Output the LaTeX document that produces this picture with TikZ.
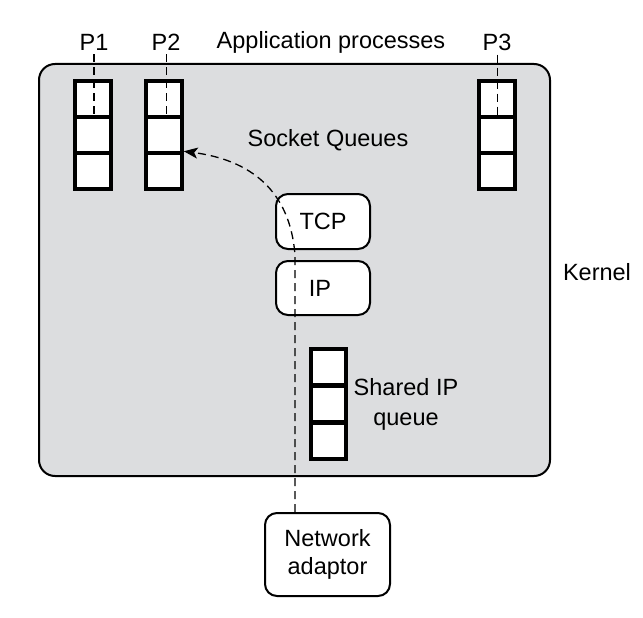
\documentclass[tikz,border=0pt]{standalone}
\usepackage{fontspec}
\setmainfont{Liberation Sans}
\usetikzlibrary{arrows.meta}
\definecolor{kgray}{RGB}{220,221,223}
\begin{document}
\begin{tikzpicture}[x=1pt,y=-1pt,
  lbl/.style={font=\fontsize{23.5}{29}\selectfont, inner sep=0pt},
  cell/.style={draw=black, fill=white, line width=3.5pt, minimum width=36pt, minimum height=36pt, inner sep=0pt},
  rbox/.style={draw=black, fill=white, line width=2pt, rounded corners=12pt, inner sep=0pt, font=\fontsize{23.5}{28}\selectfont, align=center},
  dsh/.style={dash pattern=on 8pt off 5pt, line width=1.3pt}]
\useasboundingbox (0,0) rectangle (643,618);
% kernel
\draw[fill=kgray, line width=2pt, rounded corners=16pt] (39,64) rectangle (550,476);
\node[lbl] (kernel) at (597,272) {Kernel};
% labels
\node[lbl] (p1l) at (94,42) {P1};
\node[lbl] (p2l) at (166,42) {P2};
\node[lbl] (p3l) at (497,42) {P3};
\node[lbl] (app) at (331,42) {Application processes};
\node[lbl] (sq) at (328,140) {Socket Queues};
% queues
\foreach \q/\x in {p1/93, p2/164, p3/497}{
  \node[cell] (\q a) at (\x,99) {};
  \node[cell] (\q b) at (\x,135) {};
  \node[cell] (\q c) at (\x,171) {};
}
\node[cell, minimum width=35pt] (sa) at (328.5,367) {};
\node[cell, minimum width=35pt] (sb) at (328.5,404) {};
\node[cell, minimum width=35pt] (sc) at (328.5,441) {};
\node[lbl, align=center, font=\fontsize{23.5}{30}\selectfont] (sql) at (406,404) {Shared IP\\queue};
% boxes
\node[rbox, minimum width=94pt, minimum height=55pt] (tcp) at (323,221.5) {TCP};
\node[rbox, minimum width=94pt, minimum height=54pt] (ip) at (323,288) {\hspace*{-6pt}IP};
\node[rbox, minimum width=125pt, minimum height=83pt] (nic) at (327.5,554.5) {Network\\adaptor};
% dashed lines from processes
\draw[dsh, line width=2pt] (p1l.south) ++(0,4) -- (p1a.south -| p1l.south);
\draw[dsh, line width=1pt] (p2l.south) ++(0,4) -- (p2a.south -| p2l.south);
\draw[dsh, line width=1pt] (p3l.south) ++(0,4) -- (p3a.south -| p3l.south);
% packet path
\coordinate (nt) at (nic.north -| 295,0);
\draw[dsh, -{Stealth[length=14pt,width=11pt,inset=3.5pt]}] (nt) -- (295,255) .. controls (290,190) and (250,160) .. (p2c.north east);
\end{tikzpicture}
\end{document}
